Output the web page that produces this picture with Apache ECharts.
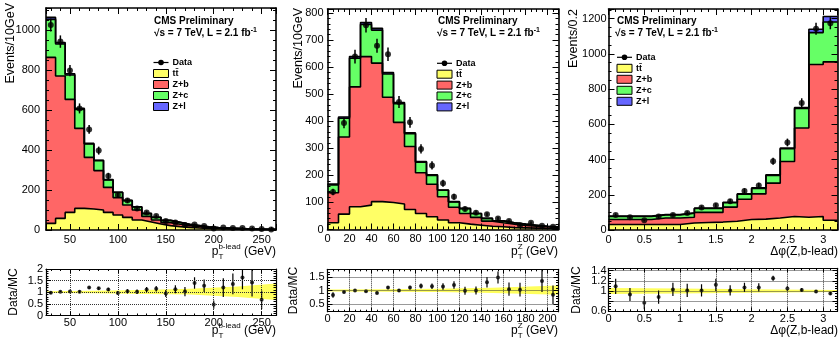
<!DOCTYPE html>
<html>
<head>
<meta charset="utf-8">
<script src="https://cdn.jsdelivr.net/npm/echarts@6/dist/echarts.min.js"></script>
<style>
  html, body { margin: 0; padding: 0; background: #fff; }
  #chart { width: 840px; height: 340px; }
</style>
</head>
<body>
<div id="chart"></div>
<script>
const FONT = "'Liberation Sans', Arial, Helvetica, sans-serif";
const YELLOW = '#ffff66', RED = '#ff6666', GREEN = '#66ff66', BLUE = '#6666ff', BAND = '#ffff5c';

// ---- panel 1: pT of leading b jet, 10 GeV bins from 25 GeV
const ptbLow = 25, ptbWidth = 10;
const ptbTT = [33, 58, 88, 108, 105, 100, 88, 75, 63, 50, 40, 30, 22, 17, 13, 10, 8, 6, 5, 4, 3, 2, 2, 1];
const ptbZb = [830, 712, 565, 400, 258, 197, 125, 87, 62, 50, 28, 20, 15, 12, 9, 7, 5, 4, 3, 2, 2, 2, 1, 1];
const ptbZc = [190, 160, 122, 95, 67, 50, 37, 26, 22, 15, 14, 13, 11, 9, 6, 5, 3, 2, 2, 2, 1, 1, 1, 1];
const ptbZl = [10, 7, 6, 5, 3, 2, 2, 1, 1, 1, 1, 1, 0, 0, 0, 0, 0, 0, 0, 0, 0, 0, 0, 0];
const ptbData = [1025, 942, 797, 608, 503, 397, 270, 175, 147, 108, 87, 70, 45, 38, 25, 28, 20, 8, 12, 10, 10, 7, 5, 3];
const ptbDataErr = [32, 31, 28, 25, 22, 20, 16, 13, 12, 10, 9, 8, 7, 6, 5, 5, 4, 3, 3, 3, 3, 3, 2, 2];
const ptbRatioX = [30, 40, 50, 60, 70, 80, 90, 100, 110, 120, 130, 140, 150, 160, 170, 180, 190, 200, 210, 220, 230, 240, 250];
const ptbRatio = [0.98, 1.02, 1.03, 1.02, 1.2, 1.17, 1.12, 0.97, 1.04, 1.02, 1.12, 1.15, 0.95, 1.13, 1.03, 1.4, 1.28, 0.47, 1.2, 1.36, 1.63, 1.42, 0.68];
const ptbRatioErr = [0.05, 0.04, 0.04, 0.05, 0.06, 0.06, 0.07, 0.08, 0.09, 0.1, 0.11, 0.12, 0.15, 0.17, 0.2, 0.25, 0.27, 0.18, 0.4, 0.45, 0.5, 0.6, 0.4];
const ptbBandX = [25, 75, 125, 175, 225, 265];
const ptbBandLo = [0.97, 0.96, 0.93, 0.9, 0.8, 0.67];
const ptbBandHi = [1.04, 1.06, 1.1, 1.15, 1.25, 1.38];

// ---- panel 2: pT of Z, 10 GeV bins from 0
const ptzLow = 0, ptzWidth = 10;
const ptzTT = [25, 57, 84, 90, 103, 100, 94, 74, 59, 47, 35, 25, 20, 16, 12, 10, 7, 6, 5, 4, 4];
const ptzZb = [111, 285, 443, 549, 512, 389, 302, 233, 151, 120, 86, 57, 39, 29, 19, 15, 13, 9, 7, 6, 3];
const ptzZc = [29, 69, 106, 119, 122, 86, 69, 47, 39, 33, 24, 20, 18, 14, 10, 7, 5, 5, 4, 2, 3];
const ptzZl = [3, 5, 6, 7, 7, 5, 4, 3, 2, 2, 1, 1, 1, 0, 0, 0, 0, 0, 0, 0, 0];
const ptzData = [139, 394, 639, 755, 679, 648, 471, 396, 298, 237, 171, 121, 76, 62, 56, 41, 31, 16, 25, 14, 10];
const ptzDataErr = [12, 20, 25, 27, 26, 25, 22, 20, 17, 15, 13, 11, 9, 8, 7, 6, 6, 4, 5, 4, 3];
const ptzRatioX = [5, 15, 25, 35, 45, 55, 65, 75, 85, 95, 105, 115, 125, 135, 145, 155, 165, 175, 195, 205];
const ptzRatio = [0.83, 0.94, 1.0, 0.97, 0.91, 1.11, 1.0, 1.11, 1.17, 1.16, 1.15, 1.21, 0.99, 1.0, 1.31, 1.49, 1.05, 1.03, 1.36, 0.84];
const ptzRatioErr = [0.1, 0.05, 0.04, 0.04, 0.05, 0.06, 0.06, 0.07, 0.09, 0.1, 0.12, 0.14, 0.15, 0.15, 0.2, 0.23, 0.25, 0.26, 0.42, 0.35];
const ptzBandX = [0, 50, 100, 150, 210];
const ptzBandLo = [0.96, 0.95, 0.94, 0.91, 0.84];
const ptzBandHi = [1.04, 1.05, 1.07, 1.1, 1.19];

// ---- panel 3: delta phi(Z, b-lead), 0.2 bins from 0
const dphiLow = 0, dphiWidth = 0.2;
const dphiTT = [31, 31, 31, 31, 31, 40, 43, 45, 50, 60, 62, 68, 77, 72, 77, 55];
const dphiZb = [29, 29, 29, 37, 37, 32, 57, 55, 80, 115, 143, 198, 312, 507, 863, 900];
const dphiZc = [17, 17, 17, 18, 18, 23, 22, 22, 25, 28, 31, 44, 72, 111, 181, 226];
const dphiZl = [2, 2, 2, 2, 2, 2, 2, 2, 3, 3, 3, 4, 5, 6, 19, 31];
const dphiData = [85, 72, 56, 77, 85, 97, 128, 140, 163, 222, 252, 390, 497, 721, 1143, 1174];
const dphiDataErr = [9, 8, 7, 9, 9, 10, 11, 12, 13, 15, 16, 20, 22, 27, 34, 34];
const dphiRatioX = [0.1, 0.3, 0.5, 0.7, 0.9, 1.1, 1.3, 1.5, 1.7, 1.9, 2.1, 2.3, 2.5, 2.7, 2.9, 3.1];
const dphiRatio = [1.09, 0.93, 0.77, 0.88, 1.03, 1.01, 1.01, 1.12, 1.01, 1.07, 1.07, 1.25, 1.05, 1.02, 0.99, 0.95];
const dphiRatioErr = [0.15, 0.13, 0.13, 0.13, 0.13, 0.13, 0.12, 0.12, 0.1, 0.09, 0.08, 0.05, 0.05, 0.04, 0.03, 0.03];
const dphiBandX = [0, 1, 2, 3.2];
const dphiBandLo = [0.94, 0.95, 0.965, 0.98];
const dphiBandHi = [1.06, 1.05, 1.035, 1.02];

const chart = echarts.init(document.getElementById('chart'), null, { renderer: 'canvas' });

// text measuring for hand-laid sub/superscripts
const mctx = document.createElement('canvas').getContext('2d');
function textWidth(t, size, bold) {
  mctx.font = (bold ? 'bold ' : '') + size + 'px ' + FONT;
  return mctx.measureText(t).width;
}
function txt(x, y, t, size, bold, align) {
  return {
    type: 'text', x: x, y: y, silent: true, z: 20,
    style: { text: t, fontSize: size, fontWeight: bold ? 'bold' : 'normal', fontFamily: FONT,
      fill: '#000', textAlign: align || 'left', textVerticalAlign: 'middle' }
  };
}
// parts: {t,size,dy,bold} or {stack:[...]}
function richLabel(x, y, parts, align) {
  const widths = parts.map(p => p.stack
    ? Math.max.apply(null, p.stack.map(q => textWidth(q.t, q.size, q.bold)))
    : textWidth(p.t, p.size, p.bold));
  const total = widths.reduce((a, b) => a + b, 0);
  let cx = align === 'right' ? x - total : x;
  const els = [];
  parts.forEach((p, i) => {
    (p.stack || [p]).forEach(q => els.push(txt(cx, y + (q.dy || 0), q.t, q.size, q.bold)));
    cx += widths[i];
  });
  return els;
}
function vtitle(x, y, t, size, align) {
  const e = txt(x, y, t, size, false, align);
  e.rotation = Math.PI / 2;
  return e;
}

function cumulate(layers) {
  const out = [];
  let acc = layers[0].map(() => 0);
  layers.forEach(l => { acc = acc.map((a, i) => a + l[i]); out.push(acc); });
  return out;
}
function stepData(lo, w, vals) {
  const d = vals.map((v, i) => [lo + i * w, v]);
  d.push([lo + vals.length * w, vals[vals.length - 1]]);
  return d;
}

// stacked histogram: draw cumulative sums from the top layer down
function histSeries(g, lo, w, layers) {
  const cum = cumulate(layers);
  const colors = [YELLOW, RED, GREEN, BLUE];
  const out = [];
  for (let k = layers.length - 1; k >= 0; k--) {
    out.push({
      type: 'line', xAxisIndex: 2 * g, yAxisIndex: 2 * g, silent: true,
      data: stepData(lo, w, cum[k]), step: 'end', symbol: 'none', z: 2,
      lineStyle: { color: '#000', width: 1.6 },
      areaStyle: { color: colors[k], opacity: 1 }
    });
  }
  return out;
}
function errSeries(g, xs, ys, es, lw) {
  return {
    type: 'custom', xAxisIndex: 2 * g, yAxisIndex: 2 * g, silent: true, clip: true, z: 5,
    data: xs.map((x, i) => [x, ys[i], es[i]]),
    renderItem: (params, api) => {
      const a = api.coord([api.value(0), api.value(1) - api.value(2)]);
      const b = api.coord([api.value(0), api.value(1) + api.value(2)]);
      return { type: 'line', shape: { x1: a[0], y1: a[1], x2: b[0], y2: b[1] },
        style: { stroke: '#000', lineWidth: lw } };
    }
  };
}
function dotSeries(g, xs, ys, size) {
  return {
    type: 'scatter', xAxisIndex: 2 * g, yAxisIndex: 2 * g, silent: true, z: 6,
    symbol: 'circle', symbolSize: size, itemStyle: { color: '#000' },
    data: xs.map((x, i) => [x, ys[i]])
  };
}
function bandSeries(g, xs, lo, hi) {
  return {
    type: 'custom', xAxisIndex: 2 * g, yAxisIndex: 2 * g, silent: true, clip: true, z: 1,
    data: [[0]],
    renderItem: (params, api) => {
      const pts = [];
      xs.forEach((x, i) => pts.push(api.coord([x, lo[i]])));
      for (let i = xs.length - 1; i >= 0; i--) pts.push(api.coord([xs[i], hi[i]]));
      return { type: 'polygon', shape: { points: pts }, style: { fill: BAND } };
    }
  };
}

function axisPair(dim, g, o) {
  const base = {
    gridIndex: g, type: 'value', min: o.min, max: o.max, z: 10,
    axisLine: { show: true, onZero: false, lineStyle: { color: '#000', width: o.lineW } },
    axisTick: { show: true, inside: true, length: o.tickLen, lineStyle: { color: '#000', width: 1 } },
    minorTick: { show: true, splitNumber: o.minor, length: o.minorLen, lineStyle: { color: '#000', width: 1 } },
    splitLine: { show: false }
  };
  if (o.interval != null) base.interval = o.interval; else base.splitNumber = o.splitNumber;
  const main = Object.assign({}, base, {
    position: dim === 'x' ? 'bottom' : 'left',
    axisLabel: { show: true, color: '#000', fontFamily: FONT, fontSize: 11, margin: o.margin,
      formatter: v => String(+v.toFixed(4)),
      showMinLabel: o.showMin !== false, showMaxLabel: o.showMax !== false },
    splitLine: { show: !!o.grid, lineStyle: { color: '#333', type: 'dotted', width: 1 } }
  });
  const mirror = Object.assign({}, base, { position: dim === 'x' ? 'top' : 'right', axisLabel: { show: false } });
  return [main, mirror];
}

const grids = [
  { left: 46, top: 8, width: 230, height: 222 },
  { left: 46, top: 269, width: 230, height: 46.5 },
  { left: 327.5, top: 9, width: 231, height: 220.5 },
  { left: 327.5, top: 269.3, width: 231, height: 42.4 },
  { left: 608.5, top: 9, width: 229, height: 221 },
  { left: 608.5, top: 268.3, width: 229, height: 43 }
];

const mainX = { lineW: 1.6, tickLen: 6, minorLen: 3, margin: 4 };
const ratX = { lineW: 1.2, tickLen: 4, minorLen: 2, margin: 2, grid: true };
const xAxes = [].concat(
  axisPair('x', 0, Object.assign({ min: 25, max: 265, splitNumber: 5, minor: 5, showMin: false, showMax: false }, mainX)),
  axisPair('x', 1, Object.assign({ min: 25, max: 265, splitNumber: 5, minor: 5, showMin: false, showMax: false }, ratX)),
  axisPair('x', 2, Object.assign({ min: 0, max: 210, interval: 20, minor: 4, showMax: false }, mainX)),
  axisPair('x', 3, Object.assign({ min: 0, max: 210, interval: 20, minor: 4, showMax: false }, ratX)),
  axisPair('x', 4, Object.assign({ min: 0, max: 3.2, interval: 0.5, minor: 5, showMax: false }, mainX)),
  axisPair('x', 5, Object.assign({ min: 0, max: 3.2, interval: 0.5, minor: 5, showMax: false }, ratX))
);
const mainY = { lineW: 1.6, tickLen: 6, minorLen: 3 };
const ratY = { lineW: 1.2, tickLen: 5, minorLen: 2.5, grid: true };
const yAxes = [].concat(
  axisPair('y', 0, Object.assign({ min: 0, max: 1110, interval: 200, minor: 4, showMax: false, margin: 6 }, mainY)),
  axisPair('y', 1, Object.assign({ min: 0, max: 2, interval: 0.5, minor: 5, margin: 3 }, ratY)),
  axisPair('y', 2, Object.assign({ min: 0, max: 815, interval: 100, minor: 5, showMax: false, margin: 4 }, mainY)),
  axisPair('y', 3, Object.assign({ min: 0.2, max: 1.8, splitNumber: 3, minor: 5, showMin: false, showMax: false, margin: 3 }, ratY)),
  axisPair('y', 4, Object.assign({ min: 0, max: 1255, interval: 200, minor: 4, showMax: false, margin: 2 }, mainY)),
  axisPair('y', 5, Object.assign({ min: 0.6, max: 1.445, interval: 0.2, minor: 4, showMax: false, margin: 2 }, ratY))
);

function centers(lo, w, n) { return Array.from({ length: n }, (_, i) => lo + (i + 0.5) * w); }

const series = [].concat(
  histSeries(0, ptbLow, ptbWidth, [ptbTT, ptbZb, ptbZc, ptbZl]),
  errSeries(0, centers(ptbLow, ptbWidth, ptbData.length), ptbData, ptbDataErr, 1.5),
  dotSeries(0, centers(ptbLow, ptbWidth, ptbData.length), ptbData, 6),
  bandSeries(1, ptbBandX, ptbBandLo, ptbBandHi),
  errSeries(1, ptbRatioX, ptbRatio, ptbRatioErr, 1.2),
  dotSeries(1, ptbRatioX, ptbRatio, 4),

  histSeries(2, ptzLow, ptzWidth, [ptzTT, ptzZb, ptzZc, ptzZl]),
  errSeries(2, centers(ptzLow, ptzWidth, ptzData.length), ptzData, ptzDataErr, 1.5),
  dotSeries(2, centers(ptzLow, ptzWidth, ptzData.length), ptzData, 6),
  bandSeries(3, ptzBandX, ptzBandLo, ptzBandHi),
  errSeries(3, ptzRatioX, ptzRatio, ptzRatioErr, 1.2),
  dotSeries(3, ptzRatioX, ptzRatio, 4),

  histSeries(4, dphiLow, dphiWidth, [dphiTT, dphiZb, dphiZc, dphiZl]),
  errSeries(4, centers(dphiLow, dphiWidth, dphiData.length), dphiData, dphiDataErr, 1.5),
  dotSeries(4, centers(dphiLow, dphiWidth, dphiData.length), dphiData, 6),
  bandSeries(5, dphiBandX, dphiBandLo, dphiBandHi),
  errSeries(5, dphiRatioX, dphiRatio, dphiRatioErr, 1.2),
  dotSeries(5, dphiRatioX, dphiRatio, 4)
);

// legend + labels
function legendEls(x, y, dy) {
  const els = [];
  els.push({ type: 'line', silent: true, z: 20, shape: { x1: x, y1: y, x2: x + 15, y2: y }, style: { stroke: '#000', lineWidth: 1.2 } });
  els.push({ type: 'circle', silent: true, z: 20, shape: { cx: x + 7.5, cy: y, r: 2.8 }, style: { fill: '#000' } });
  els.push(txt(x + 19, y, 'Data', 9, true));
  const items = [['tt\u0304', YELLOW], ['Z+b', RED], ['Z+c', GREEN], ['Z+l', BLUE]];
  items.forEach((it, k) => {
    const yy = y + dy * (k + 1);
    els.push({ type: 'rect', silent: true, z: 20, shape: { x: x, y: yy - 4, width: 15, height: 8 },
      style: { fill: it[1], stroke: '#000', lineWidth: 1 } });
    els.push(txt(x + 19, yy, it[0], 9, true));
  });
  return els;
}
function headerEls(x1, x2) {
  return [txt(x1, 21, 'CMS Preliminary', 10, true)].concat(
    richLabel(x2, 33.5, [{ t: '\u221As = 7 TeV, L = 2.1 fb', size: 10, bold: true }, { t: '-1', size: 7, bold: true, dy: -3 }]));
}
function ptLabel(xr, y, sup) {
  return richLabel(xr, y, [
    { t: 'p', size: 12 },
    { stack: [{ t: sup, size: 8, dy: -5 }, { t: 'T', size: 8, dy: 5 }] },
    { t: ' (GeV)', size: 12 }
  ], 'right');
}

const gfx = [].concat(
  headerEls(154, 154), legendEls(153.5, 62.5, 11),
  headerEls(438, 437), legendEls(437, 63.3, 10.9),
  headerEls(617, 615), legendEls(617, 57.3, 11),
  [vtitle(11, 3, 'Events/10GeV', 12.5, 'right'), vtitle(14, 292, 'Data/MC', 12, 'center'),
   vtitle(299, 8, 'Events/10GeV', 12.5, 'right'), vtitle(294, 290.5, 'Data/MC', 12, 'center'),
   vtitle(574, 9, 'Events/0.2', 12.5, 'right'), vtitle(577, 290, 'Data/MC', 12, 'center')],
  ptLabel(276, 252, 'b-lead'), ptLabel(276, 331, 'b-lead'),
  ptLabel(558, 252, 'Z'), ptLabel(558, 331, 'Z'),
  [txt(838, 252, '\u0394\u03C6(Z,b-lead)', 12, false, 'right'), txt(838, 331, '\u0394\u03C6(Z,b-lead)', 12, false, 'right')]
);

chart.setOption({
  animation: false,
  grid: grids,
  xAxis: xAxes,
  yAxis: yAxes,
  series: series,
  graphic: { elements: gfx }
});
</script>
</body>
</html>
